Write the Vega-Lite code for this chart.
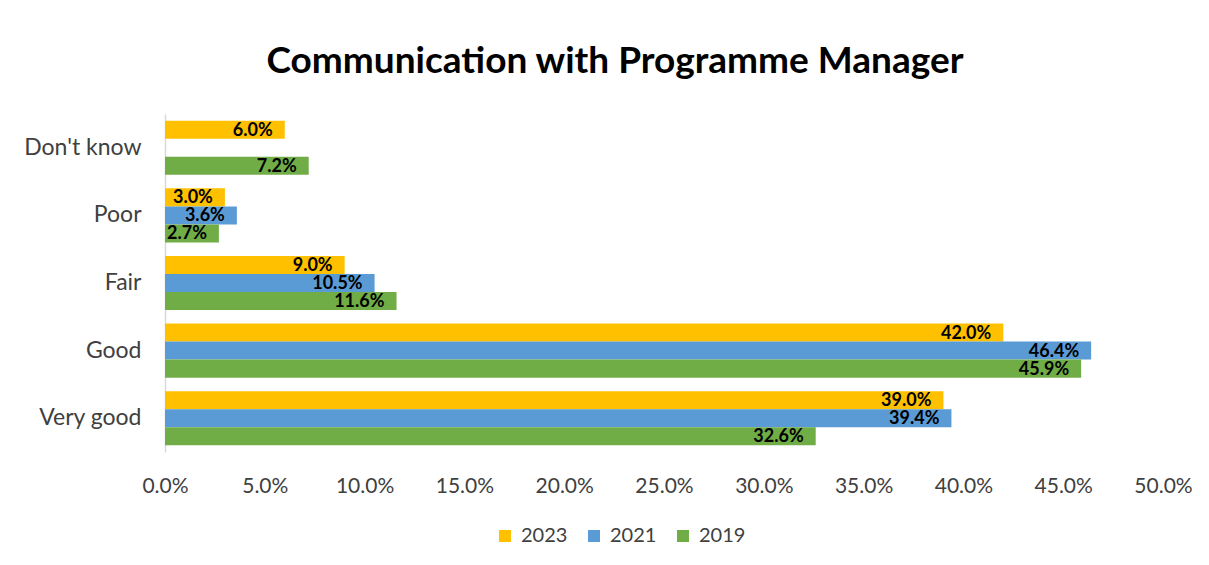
{
  "$schema": "https://vega.github.io/schema/vega-lite/v6.json",
  "width": 998,
  "height": 338,
  "autosize": {"type": "none"},
  "padding": {"left": 165, "top": 114, "right": 46, "bottom": 113},
  "background": "white",
  "title": {
    "text": "Communication with Programme Manager",
    "font": "Lato",
    "fontSize": 37,
    "fontWeight": "bold",
    "color": "#000000",
    "anchor": "middle",
    "dx": -49,
    "offset": 33
  },
  "config": {
    "view": {"stroke": null},
    "font": "Lato"
  },
  "data": {
    "values": [
      {"category": "Don't know", "year": "2023", "value": 0.060},
      {"category": "Don't know", "year": "2019", "value": 0.072},
      {"category": "Poor", "year": "2023", "value": 0.030},
      {"category": "Poor", "year": "2021", "value": 0.036},
      {"category": "Poor", "year": "2019", "value": 0.027},
      {"category": "Fair", "year": "2023", "value": 0.090},
      {"category": "Fair", "year": "2021", "value": 0.105},
      {"category": "Fair", "year": "2019", "value": 0.116},
      {"category": "Good", "year": "2023", "value": 0.420},
      {"category": "Good", "year": "2021", "value": 0.464},
      {"category": "Good", "year": "2019", "value": 0.459},
      {"category": "Very good", "year": "2023", "value": 0.390},
      {"category": "Very good", "year": "2021", "value": 0.394},
      {"category": "Very good", "year": "2019", "value": 0.326}
    ]
  },
  "encoding": {
    "y": {
      "field": "category",
      "type": "nominal",
      "sort": ["Don't know", "Poor", "Fair", "Good", "Very good"],
      "scale": {"paddingInner": 0.2, "paddingOuter": 0.1},
      "axis": {
        "title": null,
        "ticks": false,
        "domain": true,
        "domainColor": "#d9d9d9",
        "domainWidth": 1.5,
        "labelFont": "Lato",
        "labelFontSize": 23,
        "labelColor": "#404040",
        "labelPadding": 24
      }
    },
    "yOffset": {
      "field": "year",
      "type": "nominal",
      "sort": ["2023", "2021", "2019"],
      "scale": {"domain": ["2023", "2021", "2019"], "paddingInner": 0}
    },
    "x": {
      "field": "value",
      "type": "quantitative",
      "scale": {"domain": [0, 0.5]},
      "axis": {
        "title": null,
        "format": ".1%",
        "values": [0, 0.05, 0.1, 0.15, 0.2, 0.25, 0.3, 0.35, 0.4, 0.45, 0.5],
        "grid": false,
        "ticks": false,
        "domain": false,
        "labelFlush": false,
        "labelOverlap": false,
        "labelFont": "Lato",
        "labelFontSize": 21,
        "labelColor": "#404040",
        "labelPadding": 23
      }
    }
  },
  "layer": [
    {
      "mark": {"type": "bar"},
      "encoding": {
        "color": {
          "field": "year",
          "type": "nominal",
          "scale": {"domain": ["2023", "2021", "2019"], "range": ["#FFC000", "#5B9BD5", "#70AD47"]},
          "legend": {
            "title": null,
            "orient": "none",
            "direction": "horizontal",
            "legendX": 330,
            "legendY": 412,
            "symbolType": "square",
            "symbolSize": 144,
            "symbolStrokeWidth": 0,
            "labelFont": "Lato",
            "labelFontSize": 20,
            "labelColor": "#404040",
            "columnPadding": 16,
            "labelOffset": 6
          }
        }
      }
    },
    {
      "mark": {"type": "text", "align": "right", "baseline": "middle", "dx": -12, "dy": 1, "fontSize": 18, "fontWeight": "bold", "color": "#000000", "font": "Lato"},
      "encoding": {
        "text": {"field": "value", "type": "quantitative", "format": ".1%"}
      }
    }
  ]
}
